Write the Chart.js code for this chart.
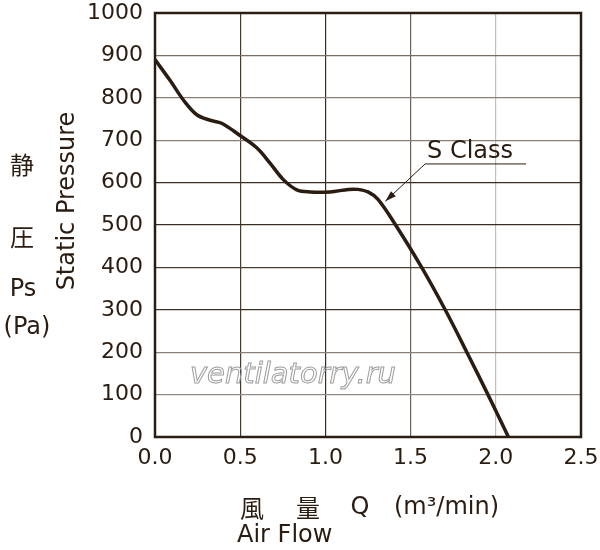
<!DOCTYPE html>
<html>
<head>
<meta charset="utf-8">
<script src="https://cdn.jsdelivr.net/npm/chart.js@4.4.0/dist/chart.umd.min.js"></script>
<style>
  html, body { margin: 0; padding: 0; background: #ffffff; }
  canvas { display: block; }
</style>
</head>
<body>
<canvas id="c" width="600" height="550"></canvas>
<script>
// ---- data ----
const airFlow = [0.00, 0.09, 0.17, 0.245, 0.323, 0.391, 0.499, 0.597, 0.675, 0.753, 0.832, 0.91, 1.027, 1.135, 1.19, 1.25, 1.31, 1.412, 1.565, 1.703, 1.830, 1.954, 2.074];
const staticPressure = [890, 840, 793, 760, 747, 740, 711, 682, 646, 607, 583, 578, 578, 584, 584, 578, 560, 500, 400, 300, 200, 100, 0];
const seriesName = "S Class";
const xTicks = [0, 0.5, 1.0, 1.5, 2.0, 2.5];
const yTicks = [0, 100, 200, 300, 400, 500, 600, 700, 800, 900, 1000];
const yTitleJa = ["静", "圧"];
const yTitleUnit = ["Ps", "(Pa)"];
const yTitleEn = "Static Pressure";
const xTitleJa = ["風", "量", "Q", "(m³/min)"];
const xTitleEn = "Air Flow";
const watermark = "ventilatorry.ru";
// label / arrow anchor (data units)
const labelAnchor = { x: 1.585, y: 644 };
const arrowTip = { x: 1.352, y: 556 };

const INK = "#2a1c10";
const points = airFlow.map((x, i) => ({ x: x, y: staticPressure[i] }));

const vGridColors = ["#2a1c10", "#4a3a2c", "#3a2c20", "#6e6256", "#c4beb8", "#2a1c10"];
const hGridColors = ["#2a1c10", "#958b82", "#8a8076", "#3e3024", "#4a3c2e", "#3a2c20", "#3a2c20", "#8a7f74", "#8a7f74", "#7a6e62", "#2a1c10"];

const decor = {
  id: "decor",
  beforeDatasetsDraw(chart) {
    const { ctx, chartArea: a, scales } = chart;
    ctx.save();
    // watermark
    ctx.font = "oblique 29px 'DejaVu Sans'";
    ctx.strokeStyle = "#9c9c9c";
    ctx.lineWidth = 1;
    ctx.textBaseline = "alphabetic";
    ctx.textAlign = "left";
    ctx.strokeText(watermark, scales.x.getPixelForValue(0.205), scales.y.getPixelForValue(128));
    // border
    ctx.strokeStyle = INK;
    ctx.lineWidth = 2.5;
    ctx.strokeRect(a.left, a.top, a.right - a.left, a.bottom - a.top);
    ctx.restore();
  },
  afterDatasetsDraw(chart) {
    const { ctx, chartArea: a, scales } = chart;
    ctx.save();
    ctx.fillStyle = INK;
    ctx.strokeStyle = INK;
    // S Class label with underline and arrow
    const lx = scales.x.getPixelForValue(labelAnchor.x);
    const ly = scales.y.getPixelForValue(labelAnchor.y);
    ctx.font = "24px 'DejaVu Sans'";
    ctx.textAlign = "left";
    ctx.textBaseline = "alphabetic";
    ctx.fillText(seriesName, lx + 2, ly - 6);
    ctx.lineWidth = 1;
    ctx.beginPath();
    ctx.moveTo(lx, ly);
    ctx.lineTo(lx + 101, ly);
    ctx.stroke();
    const tx = scales.x.getPixelForValue(arrowTip.x);
    const ty = scales.y.getPixelForValue(arrowTip.y);
    ctx.beginPath();
    ctx.moveTo(lx, ly);
    ctx.lineTo(tx, ty);
    ctx.stroke();
    const ang = Math.atan2(ty - ly, tx - lx);
    const L = 11, W = 3.5;
    ctx.beginPath();
    ctx.moveTo(tx, ty);
    ctx.lineTo(tx - L * Math.cos(ang) + W * Math.sin(ang), ty - L * Math.sin(ang) - W * Math.cos(ang));
    ctx.lineTo(tx - L * Math.cos(ang) - W * Math.sin(ang), ty - L * Math.sin(ang) + W * Math.cos(ang));
    ctx.closePath();
    ctx.fill();

    // left titles
    ctx.textAlign = "center";
    ctx.textBaseline = "middle";
    ctx.font = "24px 'Noto Sans CJK JP'";
    ctx.fillText(yTitleJa[0], 22, a.top + 152);
    ctx.fillText(yTitleJa[1], 22, a.top + 224);
    ctx.font = "24px 'DejaVu Sans'";
    ctx.fillText(yTitleUnit[0], 23, a.top + 277);
    ctx.fillText(yTitleUnit[1], 27, a.top + 315);
    ctx.save();
    ctx.translate(68, a.top + 188);
    ctx.rotate(-Math.PI / 2);
    ctx.font = "24px 'DejaVu Sans'";
    ctx.fillText(yTitleEn, 0, 0);
    ctx.restore();

    // bottom titles
    ctx.textAlign = "center";
    ctx.font = "24px 'Noto Sans CJK JP'";
    ctx.fillText(xTitleJa[0], 252, a.bottom + 71);
    ctx.fillText(xTitleJa[1], 308, a.bottom + 71);
    ctx.font = "24px 'DejaVu Sans'";
    ctx.fillText(xTitleJa[2], 360, a.bottom + 71);
    ctx.textAlign = "left";
    ctx.fillText(xTitleJa[3], 394, a.bottom + 71);
    ctx.fillText(xTitleEn, 237, a.bottom + 99);
    ctx.restore();
  }
};

new Chart(document.getElementById("c"), {
  type: "scatter",
  data: {
    datasets: [{
      label: seriesName,
      data: points,
      showLine: true,
      borderColor: INK,
      borderWidth: 3.5,
      pointRadius: 0,
      tension: 0.35,
      fill: false
    }]
  },
  options: {
    responsive: false,
    animation: false,
    devicePixelRatio: 1,
    layout: { padding: { top: 13, right: 19, left: 0, bottom: 0 } },
    plugins: { legend: { display: false }, tooltip: { enabled: false } },
    scales: {
      x: {
        type: "linear",
        min: 0, max: 2.5,
        afterBuildTicks: (s) => { s.ticks = xTicks.map(v => ({ value: v })); },
        afterFit: (s) => { s.height = 113; s.paddingLeft = 0; s.paddingRight = 0; },
        border: { display: false },
        grid: {
          drawTicks: false,
          lineWidth: 1.2,
          color: (c) => vGridColors[c.index] || "#6e6256"
        },
        ticks: {
          padding: 8,
          color: INK,
          font: { family: "DejaVu Sans", size: 22 },
          callback: (v) => Number(v).toFixed(1)
        }
      },
      y: {
        type: "linear",
        min: 0, max: 1000,
        afterBuildTicks: (s) => { s.ticks = yTicks.map(v => ({ value: v })); },
        afterFit: (s) => { s.width = 155; s.paddingTop = 0; s.paddingBottom = 0; },
        border: { display: false },
        grid: {
          drawTicks: false,
          lineWidth: 1.2,
          color: (c) => hGridColors[c.index] || "#6e6256"
        },
        ticks: {
          padding: 12,
          color: INK,
          font: { family: "DejaVu Sans", size: 22 },
          callback: (v) => String(v)
        }
      }
    }
  },
  plugins: [decor]
});
</script>
</body>
</html>
